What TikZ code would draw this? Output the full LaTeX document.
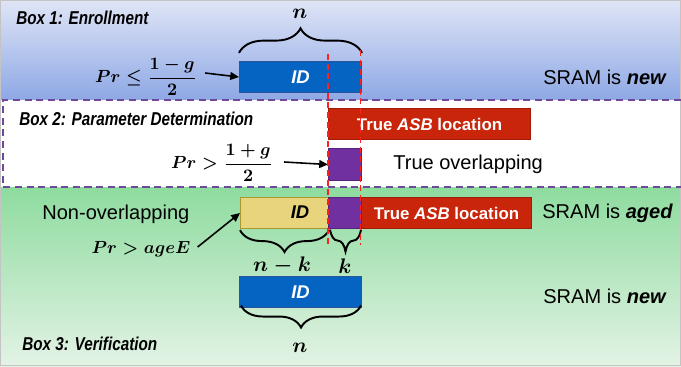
\documentclass[tikz,border=0pt]{standalone}
\usepackage{fontspec}
\setmainfont{Liberation Sans}
\usepackage{amsmath}
\usetikzlibrary{arrows.meta,decorations.pathreplacing}

\definecolor{topblueA}{HTML}{DFE5F6}
\definecolor{topblueB}{HTML}{8EA8E5}
\definecolor{greenA}{HTML}{8EDB9F}
\definecolor{greenB}{HTML}{E3F3E5}
\definecolor{idblue}{HTML}{0563C1}
\definecolor{idedge}{HTML}{2A5699}
\definecolor{asbred}{HTML}{C8250A}
\definecolor{asbedge}{HTML}{A01C06}
\definecolor{ovpurple}{HTML}{7030A0}
\definecolor{ovedge}{HTML}{55247E}
\definecolor{idyellow}{HTML}{E8D47C}
\definecolor{yeledge}{HTML}{A89830}
\definecolor{sepline}{HTML}{6F4A9A}
\definecolor{guidered}{HTML}{FF2020}
\definecolor{frame}{HTML}{C4C4C4}

\newcommand{\condensed}[1]{\scalebox{0.82}[1]{#1}}

\begin{document}
\begin{tikzpicture}[x=0.02cm,y=-0.02cm,
  bar/.style={draw, line width=0.6pt, inner sep=0pt, anchor=north west,
    minimum height=0.62cm, font=\fontsize{9.6}{11}\selectfont\bfseries},
  idbar/.style={bar, fill=idblue, draw=idedge, text=white,
    font=\fontsize{10.5}{12}\selectfont\bfseries\itshape},
  asbbar/.style={bar, fill=asbred, draw=asbedge, text=white},
  ovbar/.style={bar, fill=ovpurple, draw=ovedge},
  yelbar/.style={bar, fill=idyellow, draw=yeledge},
  boxtitle/.style={anchor=west, inner sep=0pt,
    font=\fontsize{10.6}{12}\selectfont\bfseries\itshape},
  plain/.style={anchor=west, inner sep=0pt, font=\fontsize{11.4}{13}\selectfont},
  mathtxt/.style={inner sep=0pt, font=\fontsize{10.2}{12}\selectfont\boldmath},
  biglbl/.style={inner sep=0pt, font=\fontsize{12.5}{14}\selectfont\boldmath},
  arr/.style={-{Triangle[length=5pt,width=4.5pt]}, line width=0.9pt},
  brace/.style={decorate, line width=1.1pt,
    decoration={brace, amplitude=#1}},
  guide/.style={draw=guidered, line width=0.7pt, dash pattern=on 3.5pt off 2pt},
  sep/.style={draw=sepline, line width=0.85pt, dash pattern=on 4pt off 2.6pt}
]
\useasboundingbox (0,0) rectangle (681,366);

% three bands
\shade[top color=topblueA, bottom color=topblueB] (0,0) rectangle (681,100);
\fill[white] (0,100) rectangle (681,187);
\shade[top color=greenA, bottom color=greenB] (0,187) rectangle (681,366);
\draw[frame, line width=0.8pt] (0.4,0.4) rectangle (680.6,365.3);
\draw[sep] (681,100) -- (3,100) -- (3,187) -- (681,187);

% Box 1: enrollment
\node[boxtitle] (t1) at (16,18) {\condensed{Box 1: Enrollment}};
\node[idbar, minimum width=2.44cm] (id1) at (239,61) {ID};
\node[mathtxt] (f1) at (146,77) {$Pr\le\dfrac{1-g}{2}$};
\draw[arr] ([shift={(8,-4)}]f1.east) -- (id1.west);
\draw[brace=14pt] ([yshift=4.6pt]id1.north west) -- ([yshift=4.6pt]id1.north east);
\node[biglbl] (n1) at (300,14) {$n$};
\node[plain] (s1) at (543,77) {SRAM is \textbf{\textit{new}}};

% Box 2: parameter determination
\node[boxtitle] (t2) at (19,119) {\condensed{Box 2: Parameter Determination}};
\node[asbbar, minimum width=4.04cm] (asb1) at (328,108) {True \textit{ASB} location};
\node[ovbar, minimum width=0.66cm, minimum height=0.64cm] (ov1) at (328,148) {};
\node[mathtxt] (f2) at (222,163) {$Pr>\dfrac{1+g}{2}$};
\draw[arr] ([shift={(11,-1)}]f2.east) -- (ov1.west);
\node[plain] (s2) at (393,164) {True overlapping};

% Box 3: verification
\node[plain] (s3) at (42,214) {Non-overlapping};
\node[yelbar, minimum width=1.76cm] (yel) at (240,197) {};
\node[inner sep=0pt, font=\fontsize{10.5}{12}\selectfont\bfseries\itshape] (yelid) at (300,212.5) {ID};
\node[ovbar, minimum width=0.66cm] (ov2) at (328,197) {};
\node[asbbar, minimum width=3.4cm] (asb2) at (361,197) {True \textit{ASB} location};
\node[plain] (s4) at (542,213) {SRAM is \textbf{\textit{aged}}};
\node[mathtxt] (f3) at (141,249) {$Pr>ageE$};
\draw[arr] ([shift={(7,-2)}]f3.east) -- (yel.west);
\draw[brace=12.5pt] ([yshift=-0.6pt]yel.south east) -- ([yshift=-0.6pt]yel.south west);
\draw[brace=12.5pt] ([shift={(-1,0.6)}]ov2.south east) -- ([shift={(2,0.6)}]ov2.south west);
\node[biglbl] (nk) at (282,266) {$n-k$};
\node[biglbl] (k) at (345,266) {$k$};
\node[idbar, minimum width=2.44cm] (id2) at (239,276) {ID};
\node[plain] (s5) at (543,296) {SRAM is \textbf{\textit{new}}};
\draw[brace=12.5pt] ([shift={(-1,-2.5)}]id2.south east) -- ([shift={(2,-2.5)}]id2.south west);
\node[biglbl] (n2) at (300,348) {$n$};
\node[boxtitle] (t3) at (22,344) {\condensed{Box 3: Verification}};

% alignment guides
\coordinate (ga) at (328,54);
\coordinate (gb) at (328,245);
\coordinate (gc) at (360.5,50);
\coordinate (gd) at (360.5,245);
\draw[guide] (ga) -- (gb);
\draw[guide] (gc) -- (gd);
\end{tikzpicture}
\end{document}
